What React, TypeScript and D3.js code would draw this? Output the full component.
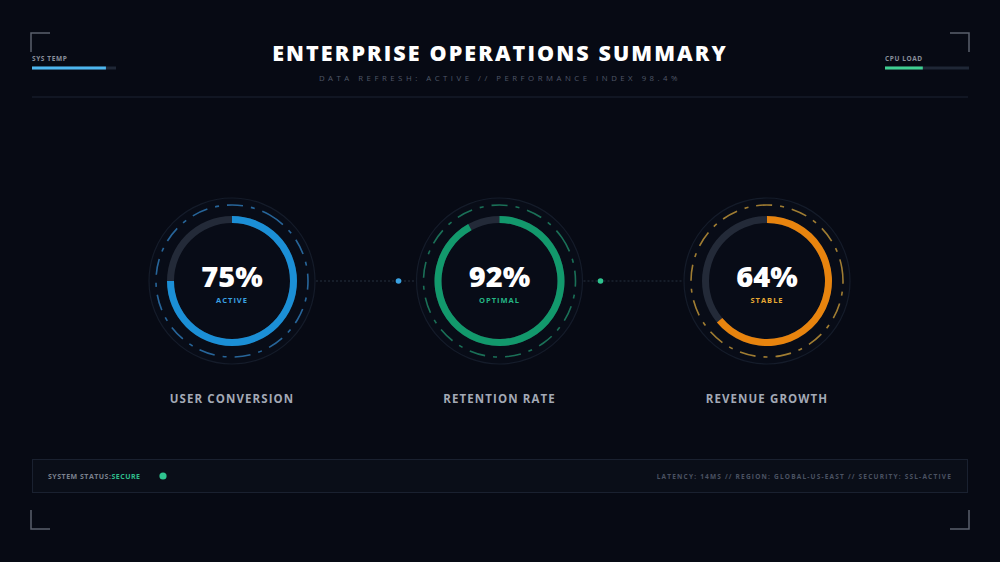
import * as React from 'react';
import * as d3 from 'd3';

// gauge data
const metrics = ['USER CONVERSION', 'RETENTION RATE', 'REVENUE GROWTH'];
const values = [75, 92, 64];
const statuses = ['ACTIVE', 'OPTIMAL', 'STABLE'];
const colors = ['#1b8fd6', '#12996c', '#e8840e'];
const statusColors = ['#3aa2e2', '#24b584', '#e6aa34'];
const dashColors = ['#2f7cba', '#1f8a68', '#c79a3a'];

// header meters
const meterLabels = ['SYS TEMP', 'CPU LOAD'];
const meterValues = [88, 45];
const meterColors = ['#4db6ef', '#3fd092'];

const title = 'ENTERPRISE OPERATIONS SUMMARY';
const subtitle = 'DATA REFRESH: ACTIVE // PERFORMANCE INDEX 98.4%';
const footerLeft = 'SYSTEM STATUS:';
const footerStatus = 'SECURE';
const footerRight = 'LATENCY: 14MS // REGION: GLOBAL-US-EAST // SECURITY: SSL-ACTIVE';

const W = 1000;
const H = 562;
const FONT = '"Open Sans", "Noto Sans", sans-serif';

export default function App() {
  const ref = React.useRef<SVGSVGElement>(null);

  React.useEffect(() => {
    document.body.style.margin = '0';
    const svg = d3.select(ref.current);
    svg.selectAll('*').remove();

    svg.append('rect').attr('width', W).attr('height', H).attr('fill', '#070a14');

    // corner brackets
    const bracket = 'M31,52 V33 H50 M950,33 H969 V52 M31,510 V529 H50 M950,529 H969 V510';
    svg.append('path').attr('d', bracket).attr('fill', 'none')
      .attr('stroke', '#5b606c').attr('stroke-width', 1.5);

    // title
    svg.append('text').attr('x', W / 2).attr('y', 61).attr('text-anchor', 'middle')
      .attr('font-family', FONT).attr('font-weight', 800).attr('font-size', 21.5)
      .attr('letter-spacing', 2.1).attr('fill', '#ffffff').text(title);
    svg.append('text').attr('x', W / 2).attr('y', 81).attr('text-anchor', 'middle')
      .attr('font-family', FONT).attr('font-size', 7.8).attr('letter-spacing', 3.5)
      .attr('fill', '#505868').text(subtitle);

    svg.append('line').attr('x1', 32).attr('x2', 968).attr('y1', 97).attr('y2', 97)
      .attr('stroke', '#1c2332').attr('stroke-width', 1);

    // header meters
    const meterX = [32, 885];
    const meterW = d3.scaleLinear().domain([0, 100]).range([0, 84]);
    meterLabels.forEach((label, i) => {
      const g = svg.append('g').attr('transform', `translate(${meterX[i]},0)`);
      g.append('text').attr('x', 0).attr('y', 61).attr('font-family', FONT)
        .attr('font-weight', 700).attr('font-size', 6.5).attr('letter-spacing', 0.6)
        .attr('fill', '#8a909c').text(label);
      g.append('rect').attr('x', 0).attr('y', 66.5).attr('width', meterW(100)).attr('height', 3)
        .attr('fill', '#1f2736');
      g.append('rect').attr('x', 0).attr('y', 66.5).attr('width', meterW(meterValues[i])).attr('height', 3)
        .attr('fill', meterColors[i]);
    });

    // gauges
    const cy = 281;
    const x = d3.scalePoint<string>().domain(metrics).range([232, 767]);
    const angle = d3.scaleLinear().domain([0, 100]).range([0, 2 * Math.PI]);
    const arc = d3.arc<number>().innerRadius(58).outerRadius(65)
      .startAngle(0).endAngle(d => angle(d));

    // connectors, each with a node beside the middle gauge
    const links = [[0, 1], [1, 2]];
    links.forEach(([a, b], i) => {
      const x1 = x(metrics[a])! + 84;
      const x2 = x(metrics[b])! - 84;
      svg.append('line').attr('x1', x1).attr('x2', x2).attr('y1', cy).attr('y2', cy)
        .attr('stroke', '#27303f').attr('stroke-width', 1).attr('stroke-dasharray', '2 2');
      svg.append('circle').attr('cx', i === 0 ? x2 - 17 : x1 + 17).attr('cy', cy).attr('r', 2.8)
        .attr('fill', i === 0 ? '#3aa2e2' : '#2fc48f');
    });

    metrics.forEach((m, i) => {
      const g = svg.append('g').attr('transform', `translate(${x(m)},${cy})`);
      g.append('circle').attr('r', 83).attr('fill', '#080c17')
        .attr('stroke', '#151c2a').attr('stroke-width', 1.2);
      g.append('circle').attr('r', 76).attr('fill', 'none')
        .attr('stroke', dashColors[i]).attr('stroke-opacity', 0.8).attr('stroke-width', 1.6)
        .attr('stroke-dasharray', '16 8 4 8')
        .attr('transform', `rotate(${-60 + i * 25})`);
      g.append('path').attr('d', arc(100)!).attr('fill', '#232a38');
      g.append('path').attr('d', arc(values[i])!).attr('fill', colors[i]);
      g.append('text').attr('y', 6).attr('text-anchor', 'middle').attr('font-family', FONT)
        .attr('font-weight', 800).attr('font-size', 29).attr('fill', '#ffffff')
        .text(`${values[i]}%`);
      g.append('text').attr('y', 21.5).attr('text-anchor', 'middle').attr('font-family', FONT)
        .attr('font-weight', 700).attr('font-size', 7.5).attr('letter-spacing', 1)
        .attr('fill', statusColors[i]).text(statuses[i]);
      g.append('text').attr('y', 121.5).attr('text-anchor', 'middle').attr('font-family', FONT)
        .attr('font-weight', 700).attr('font-size', 11.5).attr('letter-spacing', 1.1)
        .attr('fill', '#a3a9b6').text(m);
    });

    // footer panel
    svg.append('rect').attr('x', 32.5).attr('y', 459.5).attr('width', 935).attr('height', 33)
      .attr('fill', '#0a0e18').attr('stroke', '#1a2130').attr('stroke-width', 1);
    const ft = svg.append('text').attr('x', 48).attr('y', 479).attr('font-family', FONT)
      .attr('font-weight', 700).attr('font-size', 7).attr('letter-spacing', 0.5);
    ft.append('tspan').attr('fill', '#7b818e').text(footerLeft);
    ft.append('tspan').attr('fill', '#2fbf8c').text(footerStatus);
    svg.append('circle').attr('cx', 163).attr('cy', 476).attr('r', 3.6).attr('fill', '#2fc48f');
    svg.append('text').attr('x', 952).attr('y', 479).attr('text-anchor', 'end')
      .attr('font-family', FONT).attr('font-weight', 700).attr('font-size', 6.5)
      .attr('letter-spacing', 1.2).attr('fill', '#4b5262').text(footerRight);
  }, []);

  return (
    <svg ref={ref} width={W} height={H}
      style={{ display: 'block', position: 'absolute', left: 0, top: 0 }} />
  );
}
